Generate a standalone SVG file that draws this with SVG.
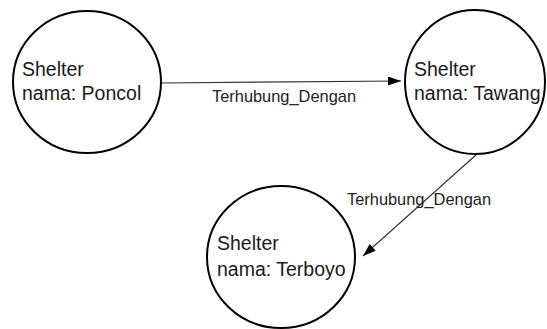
<svg xmlns="http://www.w3.org/2000/svg" width="547" height="329" viewBox="0 0 547 329">
  <style>
    .node { fill: #ffffff; stroke: #000000; stroke-width: 2; }
    .ntext { font-family: "Liberation Sans", Arial, sans-serif; font-size: 19.5px; fill: #1a1a1a; }
    .edge { stroke: #333333; stroke-width: 1.2; fill: none; }
    .etext { font-family: "Liberation Sans", Arial, sans-serif; font-size: 16.4px; fill: #222222; }
  </style>
  <defs>
    <marker id="arrow" markerUnits="userSpaceOnUse" markerWidth="14" markerHeight="10" refX="13" refY="4.5" orient="auto">
      <path d="M0,0 L13,4.5 L0,9 z" fill="#000000"/>
    </marker>
  </defs>
  <rect width="547" height="329" fill="#ffffff"/>
  <g id="connectors">
    <line class="edge" x1="161" y1="83" x2="401" y2="81" marker-end="url(#arrow)"/>
    <text class="etext" x="212" y="102">Terhubung_Dengan</text>
    <line class="edge" x1="477" y1="154" x2="363" y2="256" marker-end="url(#arrow)"/>
    <text class="etext" x="347" y="205">Terhubung_Dengan</text>
  </g>
  <g id="poncol">
    <ellipse class="node" cx="87" cy="82" rx="74" ry="71"/>
    <text class="ntext" x="22" y="76">Shelter</text>
    <text class="ntext" x="22" y="100">nama: Poncol</text>
  </g>
  <g id="tawang">
    <ellipse class="node" cx="475" cy="82" rx="70" ry="72"/>
    <text class="ntext" x="414" y="76">Shelter</text>
    <text class="ntext" x="414" y="100">nama: Tawang</text>
  </g>
  <g id="terboyo">
    <ellipse class="node" cx="281" cy="257" rx="74" ry="71"/>
    <text class="ntext" x="217" y="250">Shelter</text>
    <text class="ntext" x="217" y="276">nama: Terboyo</text>
  </g>
</svg>
